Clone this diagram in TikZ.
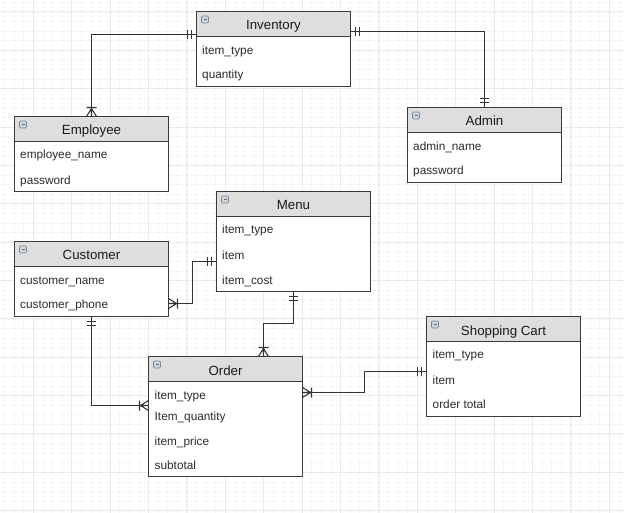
\documentclass[tikz,border=0pt]{standalone}
\usepackage{fontspec}
\setmainfont{Liberation Sans}
\definecolor{gridminor}{HTML}{F6F6F6}
\definecolor{gridmajor}{HTML}{EAEAEA}
\definecolor{boxline}{HTML}{3A3A3A}
\definecolor{hdrfill}{HTML}{DEDEDE}
\definecolor{linecol}{HTML}{333333}
\definecolor{titlecol}{HTML}{1A1A1A}
\definecolor{attrcol}{HTML}{2B2B2B}
\definecolor{iconfill}{HTML}{CDD5DF}
\definecolor{iconline}{HTML}{7D8895}
\newcommand\erentity[5]{%
  \node[entitybox, minimum height=#4pt] (#1) at (#2,#3) {};
  \draw[hdr] (#1.north west) rectangle ([yshift=-25pt]#1.north east);
  \draw[iconstyle] ([xshift=5pt,yshift=-4.5pt]#1.north west) rectangle ++(7,7);
  \draw[iconminus] ([xshift=7pt,yshift=-8pt]#1.north west) -- ++(3,0);
  \node[titletext] (#1-title) at ([yshift=-18.5pt]#1.north) {#5};
}
\newcommand\mkone[2]{\begin{scope}[shift={(#1)},rotate=#2]
  \draw[conn] (-5,-4.5) -- (-5,4.5) (-9,-4.5) -- (-9,4.5);\end{scope}}
\newcommand\mkmany[2]{\begin{scope}[shift={(#1)},rotate=#2]
  \draw[conn] (0,-5) -- (-8,0) -- (0,5) (-8,0) -- (0,0) (-9,-5) -- (-9,5);\end{scope}}
\begin{document}
\begin{tikzpicture}[x=1pt,y=-1pt,
  minorgrid/.style={draw=gridminor, line width=0.7pt},
  majorgrid/.style={draw=gridmajor, line width=1pt},
  entitybox/.style={draw=boxline, line width=1pt, fill=white, rectangle, anchor=north west, minimum width=154pt, inner sep=0pt, outer sep=0pt},
  hdr/.style={fill=hdrfill, draw=boxline, line width=1pt},
  iconstyle/.style={fill=iconfill, draw=iconline, line width=0.6pt, rounded corners=1pt},
  iconminus/.style={draw=iconline!80!black, line width=0.8pt},
  titletext/.style={font=\fontsize{13.3}{15}\selectfont, text=titlecol, anchor=base, inner sep=0pt},
  attr/.style={font=\fontsize{11.8}{13}\selectfont, text=attrcol, anchor=base west, inner sep=0pt},
  conn/.style={draw=linecol, line width=1.1pt}]
\useasboundingbox (0,0) rectangle (624,513);
\fill[white] (0,0) rectangle (624,513);
\begin{scope}
\clip (0,0) rectangle (624,513);
\foreach \i in {0,...,64} \draw[minorgrid] ({4.5+9.6*\i},0) -- ++(0,513);
\foreach \j in {0,...,53} \draw[minorgrid] (0,{2.4+9.59*\j}) -- ++(624,0);
\foreach \i in {0,...,15} \draw[majorgrid] ({33.3+38.4*\i},0) -- ++(0,513);
\foreach \j in {0,...,13} \draw[majorgrid] (0,{12+38.36*\j}) -- ++(624,0);
\end{scope}

% entities
\erentity{inv}{196.5}{11.5}{75}{Inventory}
\node[attr] (inv-a1) at (202,54.5) {item\_type};
\node[attr] (inv-a2) at (202,78.5) {quantity};

\erentity{emp}{14.5}{116.5}{75}{Employee}
\node[attr] (emp-a1) at (20,158.8) {employee\_name};
\node[attr] (emp-a2) at (20,184.5) {password};

\erentity{adm}{407.5}{107.5}{75}{Admin}
\node[attr] (adm-a1) at (413,150.5) {admin\_name};
\node[attr] (adm-a2) at (413,174.5) {password};

\erentity{menu}{216.5}{191.5}{100}{Menu}
\node[attr] (menu-a1) at (222,233.8) {item\_type};
\node[attr] (menu-a2) at (222,259.5) {item};
\node[attr] (menu-a3) at (222,284.5) {item\_cost};

\erentity{cus}{14.5}{241.5}{75}{Customer}
\node[attr] (cus-a1) at (20,284.5) {customer\_name};
\node[attr] (cus-a2) at (20,308.5) {customer\_phone};

\erentity{ord}{148.5}{356.5}{120}{Order}
\node[attr] (ord-a1) at (154.5,399.5) {item\_type};
\node[attr] (ord-a2) at (154.5,420.2) {Item\_quantity};
\node[attr] (ord-a3) at (154.5,445.5) {item\_price};
\node[attr] (ord-a4) at (154.5,469.5) {subtotal};

\erentity{cart}{426.5}{316.5}{100}{Shopping Cart}
\node[attr] (cart-a1) at (432.5,358.8) {item\_type};
\node[attr] (cart-a2) at (432.5,384.5) {item};
\node[attr] (cart-a3) at (432.5,408.8) {order total};

% connector end points
\coordinate (e1) at ([yshift=-23pt]inv.north west);
\coordinate (e2) at (emp.north);
\coordinate (e3) at ([yshift=-20pt]inv.north east);
\coordinate (e4) at (adm.north);
\coordinate (e5) at ([yshift=-62pt]cus.north east);
\coordinate (e6) at ([yshift=-70pt]menu.north west);
\coordinate (e7) at (menu.south);
\coordinate (e8) at ([xshift=115pt]ord.north west);
\coordinate (e9) at (cus.south);
\coordinate (e10) at ([yshift=-49pt]ord.north west);
\coordinate (e11) at ([yshift=-36pt]ord.north east);
\coordinate (e12) at ([yshift=-55pt]cart.north west);

% connectors
\draw[conn] (e1) -| (e2);
\draw[conn] (e3) -| (e4);
\draw[conn] (e5) -- ++(24,0) |- (e6);
\draw[conn] (e7) -- ++(0,32) -| (e8);
\draw[conn] (e9) |- (e10);
\draw[conn] (e11) -- ++(62,0) |- (e12);

% markers
\mkone{e1}{0}
\mkmany{e2}{-90}
\mkone{e3}{180}
\mkone{e4}{-90}
\mkmany{e5}{180}
\mkone{e6}{0}
\mkone{e7}{90}
\mkmany{e8}{-90}
\mkone{e9}{90}
\mkmany{e10}{0}
\mkmany{e11}{180}
\mkone{e12}{0}
\end{tikzpicture}
\end{document}
